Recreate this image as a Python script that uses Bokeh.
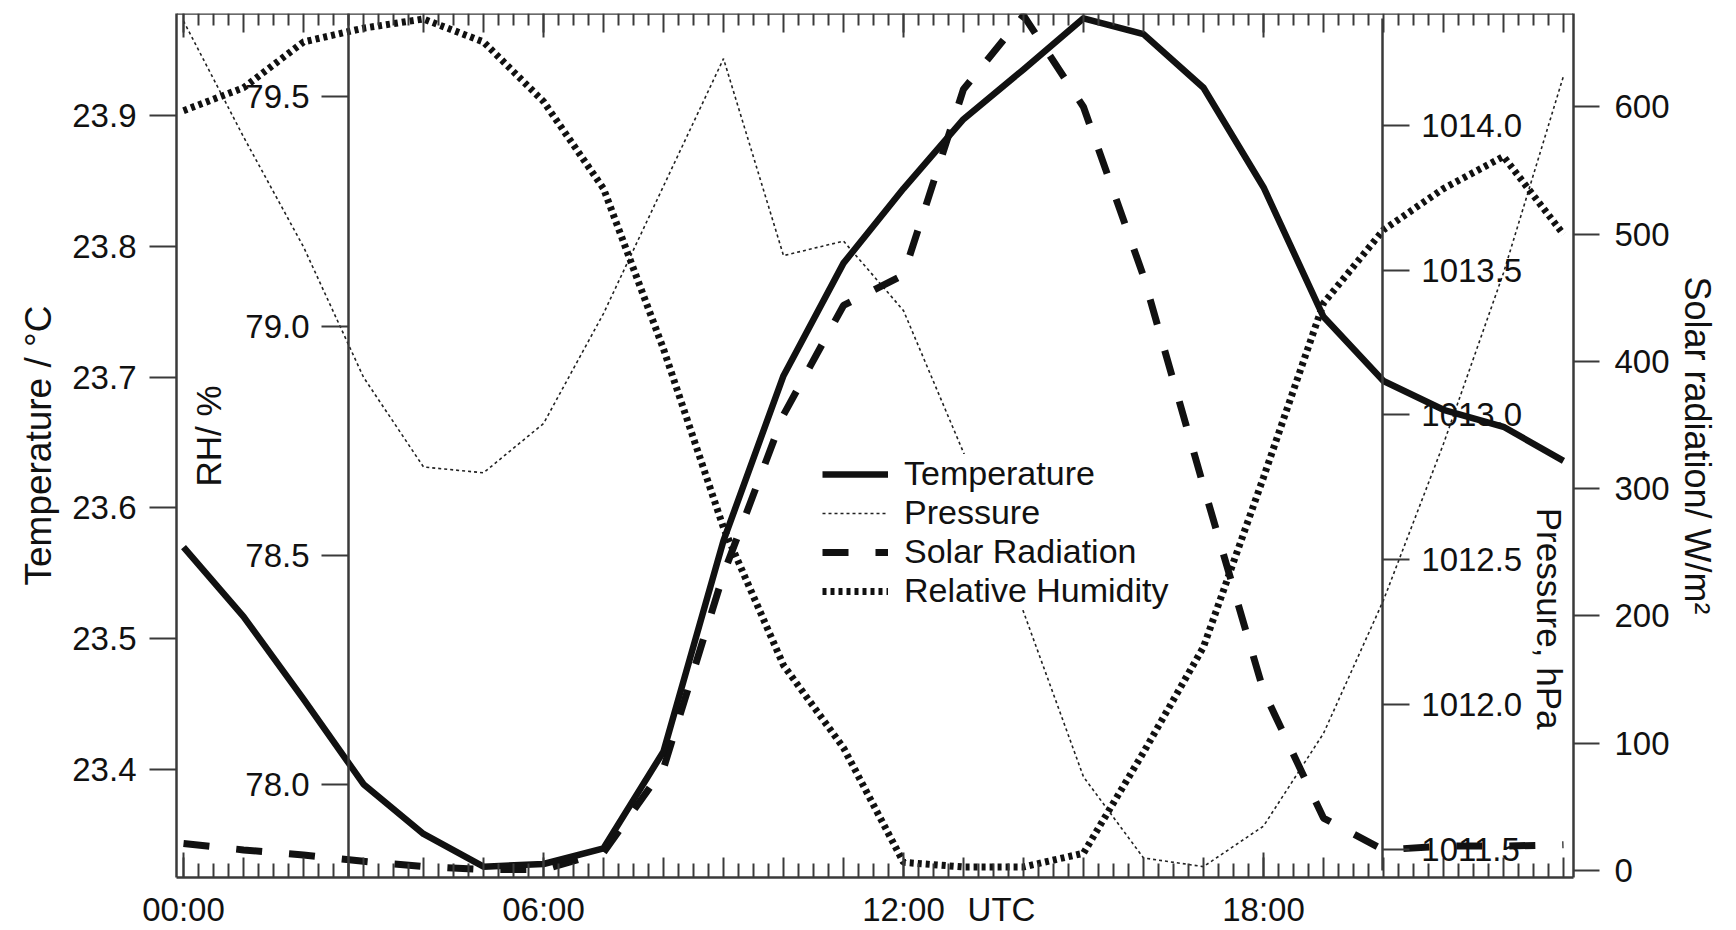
import math

from bokeh.plotting import figure
from bokeh.models import (Range1d, LinearAxis, FixedTicker, PrintfTickFormatter,
                          Legend, Label)
from bokeh.embed import file_html
from bokeh.resources import INLINE

# ---- hourly observations (UTC) ----
hours = [0, 1, 2, 3, 4, 5, 6, 7, 8, 9, 10, 11,
         12, 13, 14, 15, 16, 17, 18, 19, 20, 21, 22, 23]
temperature = [23.570, 23.517, 23.454, 23.389, 23.351, 23.326, 23.328, 23.340,
               23.414, 23.575, 23.701, 23.787, 23.844, 23.897, 23.935, 23.974,
               23.962, 23.921, 23.845, 23.746, 23.697, 23.675, 23.662, 23.636]
pressure = [1014.36, 1013.96, 1013.58, 1013.13, 1012.82, 1012.80, 1012.97, 1013.35,
            1013.79, 1014.23, 1013.55, 1013.60, 1013.36, 1012.87, 1012.32, 1011.75,
            1011.47, 1011.44, 1011.58, 1011.90, 1012.36, 1012.90, 1013.49, 1014.17]
solar = [21, 16, 12, 7, 3, 0.5, 0.5, 14, 80, 233, 358, 444,
         468, 614, 672, 600, 467, 302, 141, 41, 16, 19, 19, 20]
humidity = [79.47, 79.52, 79.62, 79.65, 79.67, 79.62, 79.49, 79.30,
            78.95, 78.56, 78.26, 78.08, 77.83, 77.82, 77.82, 77.85,
            78.07, 78.30, 78.67, 79.05, 79.21, 79.30, 79.37, 79.20]

# ---- tick positions and labels ----
temp_ticks = [23.4, 23.5, 23.6, 23.7, 23.8, 23.9]
rh_ticks = [78.0, 78.5, 79.0, 79.5]
pres_ticks = [1011.5, 1012.0, 1012.5, 1013.0, 1013.5, 1014.0]
solar_ticks = [0, 100, 200, 300, 400, 500, 600]
time_ticks = [0, 6, 12, 18]
time_labels = ["00:00", "06:00", "12:00", "18:00"]
time_title = "UTC"
time_title_at = 13.633
hour_ticks = list(range(0, 24))
quarter_ticks = [h + q / 4 for h in range(0, 24) for q in (1, 2, 3) if h + q / 4 < 23.17]

FONT = "Liberation Sans"
INK = "#111111"
FRAME = "#3a3a3a"

X_START, X_END = -0.117, 23.167
T_START, T_END = 23.3177, 23.9777
RH_AXIS_AT = 2.75       # hour position of the inner humidity scale
PRES_AXIS_AT = 19.98    # hour position of the inner pressure scale

p = figure(width=1736, height=930, output_backend="svg", toolbar_location=None,
           x_range=Range1d(X_START, X_END), y_range=Range1d(T_START, T_END),
           x_axis_location=None, y_axis_location=None,
           min_border_left=176, min_border_right=163,
           min_border_top=13, min_border_bottom=51,
           background_fill_color="white", border_fill_color="white",
           outline_line_color=None)
p.xgrid.visible = False
p.ygrid.visible = False
p.extra_y_ranges = {
    "rh": Range1d(77.797, 79.682),
    "pres": Range1d(1011.4025, 1014.386),
    "solar": Range1d(-5.7, 673.5),
}


def style(ax, size="33px"):
    ax.axis_line_color = FRAME
    ax.axis_line_width = 2.5
    ax.major_tick_line_color = FRAME
    ax.major_tick_line_width = 2
    ax.minor_tick_line_color = FRAME
    ax.minor_tick_line_width = 2
    ax.major_label_text_font = FONT
    ax.major_label_text_font_size = size
    ax.major_label_text_color = INK
    ax.axis_label_text_font = FONT
    ax.axis_label_text_font_style = "normal"
    ax.axis_label_text_color = INK
    ax.axis_label_text_font_size = "37px"


# temperature scale (left edge of the frame)
t_axis = LinearAxis(ticker=FixedTicker(ticks=temp_ticks),
                    formatter=PrintfTickFormatter(format="%.1f"),
                    axis_label="Temperature / °C")
style(t_axis)
t_axis.major_tick_in = 0
t_axis.major_tick_out = 27
t_axis.major_label_standoff = 13
t_axis.axis_label_standoff = 10
t_axis.minor_tick_line_color = None
p.add_layout(t_axis, "left")

# relative humidity scale drawn inside the frame
rh_axis = LinearAxis(y_range_name="rh", fixed_location=RH_AXIS_AT,
                     ticker=FixedTicker(ticks=rh_ticks),
                     formatter=PrintfTickFormatter(format="%.1f"))
style(rh_axis)
rh_axis.major_tick_in = 0
rh_axis.major_tick_out = 27
rh_axis.major_label_standoff = 12
rh_axis.minor_tick_line_color = None
p.add_layout(rh_axis, "left")

# solar radiation scale (right edge of the frame)
s_axis = LinearAxis(y_range_name="solar", ticker=FixedTicker(ticks=solar_ticks),
                    axis_label="Solar radiation/ W/m²")
style(s_axis)
s_axis.axis_label_text_font_size = "36px"
s_axis.major_tick_in = 0
s_axis.major_tick_out = 26
s_axis.major_label_standoff = 15
s_axis.axis_label_standoff = 4
s_axis.minor_tick_line_color = None
p.add_layout(s_axis, "right")

# pressure scale drawn inside the frame
p_axis = LinearAxis(y_range_name="pres", fixed_location=PRES_AXIS_AT,
                    ticker=FixedTicker(ticks=pres_ticks),
                    formatter=PrintfTickFormatter(format="%.1f"),
                    bounds=(1011.427, 1014.369))
style(p_axis)
p_axis.major_tick_in = 0
p_axis.major_tick_out = 27
p_axis.major_label_standoff = 12
p_axis.minor_tick_line_color = None
p.add_layout(p_axis, "right")

# time labels (and the UTC caption) under the bottom edge
label_ticks = time_ticks + [time_title_at]
label_text = dict(zip(label_ticks, time_labels + [time_title]))
x_axis = LinearAxis(ticker=FixedTicker(ticks=label_ticks),
                    major_label_overrides=label_text)
style(x_axis)
x_axis.major_tick_line_color = None
x_axis.minor_tick_line_color = None
x_axis.major_tick_in = 0
x_axis.major_tick_out = 0
x_axis.major_label_standoff = 13
p.add_layout(x_axis, "below")


def tick_row(at, side, ticks, minor, major_len, minor_len):
    """Unlabelled row of ticks hanging into the frame from one edge."""
    ax = LinearAxis(fixed_location=at, ticker=FixedTicker(ticks=ticks, minor_ticks=minor))
    style(ax)
    ax.axis_line_color = None
    ax.major_tick_in = 0
    ax.major_tick_out = major_len
    ax.minor_tick_in = 0
    ax.minor_tick_out = minor_len
    ax.major_label_text_color = None
    if not minor:
        ax.minor_tick_line_color = None
    p.add_layout(ax, side)
    return ax


# bottom edge: ticks point upward, top edge: ticks point downward
tick_row(T_START, "above", time_ticks, quarter_ticks, 25, 14)
tick_row(T_START, "above", hour_ticks, [], 20, 0)
top_edge = tick_row(T_END, "below", time_ticks, quarter_ticks, 24, 12)
top_edge.axis_line_color = FRAME
tick_row(T_END, "below", hour_ticks, [], 19, 0)

# ---- series ----
r_pres = p.line(hours, pressure, y_range_name="pres", line_color="#222222",
                line_width=1.6, line_dash="3 3")
r_rh = p.line(hours, humidity, y_range_name="rh", line_color=INK,
              line_width=7, line_dash="4 4")
r_solar = p.line(hours, solar, y_range_name="solar", line_color=INK,
                 line_width=7, line_dash="26 27")
r_temp = p.line(hours, temperature, line_color=INK, line_width=6.5,
                line_join="round")

legend = Legend(items=[("Temperature", [r_temp]), ("Pressure", [r_pres]),
                       ("Solar Radiation", [r_solar]), ("Relative Humidity", [r_rh])],
                location=(646, 267), glyph_width=66, glyph_height=30,
                label_height=30, spacing=-3, padding=8, margin=0, label_standoff=16,
                label_text_font=FONT, label_text_font_size="34px",
                label_text_color=INK, background_fill_color="white",
                background_fill_alpha=1.0, border_line_color=None)
p.add_layout(legend, "center")

# inner scale titles
p.add_layout(Label(x=0.417, y=23.655, text="RH/ %", text_font=FONT,
                   text_font_size="35px", text_color=INK, angle=math.pi / 2,
                   text_align="center", text_baseline="middle"))
p.add_layout(Label(x=22.767, y=23.5155, text="Pressure, hPa", text_font=FONT,
                   text_font_size="35px", text_color=INK, angle=-math.pi / 2,
                   text_align="center", text_baseline="middle"))

open("out.html", "w").write(file_html(p, INLINE))
